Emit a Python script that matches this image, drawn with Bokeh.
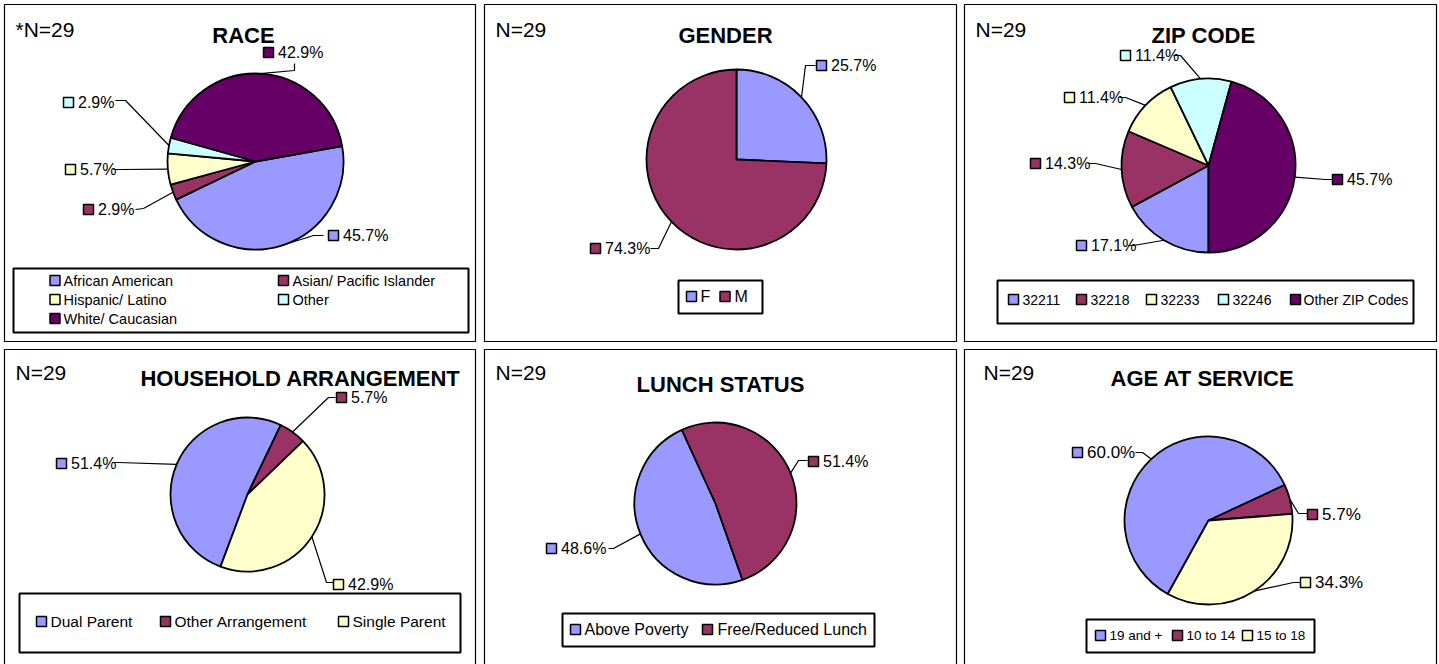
import math
from bokeh.plotting import figure
from bokeh.models import Range1d
from bokeh.embed import file_html
from bokeh.resources import INLINE
from bokeh.core.properties import value

# ---------------- data ----------------
N_LABELS = ["*N=29", "N=29", "N=29", "N=29", "N=29", "N=29"]
TITLES = ["RACE", "GENDER", "ZIP CODE", "HOUSEHOLD ARRANGEMENT", "LUNCH STATUS", "AGE AT SERVICE"]

race_cats = ["African American", "Asian/ Pacific Islander", "Hispanic/ Latino", "Other", "White/ Caucasian"]
race_vals = [45.7, 2.9, 5.7, 2.9, 42.9]

gender_cats = ["F", "M"]
gender_vals = [25.7, 74.3]

zip_cats = ["32211", "32218", "32233", "32246", "Other ZIP Codes"]
zip_vals = [17.1, 14.3, 11.4, 11.4, 45.7]

house_cats = ["Dual Parent", "Other Arrangement", "Single Parent"]
house_vals = [51.4, 5.7, 42.9]

lunch_cats = ["Above Poverty", "Free/Reduced Lunch"]
lunch_vals = [48.6, 51.4]

age_cats = ["19 and +", "10 to 14", "15 to 18"]
age_vals = [60.0, 5.7, 34.3]

# ---------------- styles ----------------
BLUE, MAROON, YELLOW, CYAN, PURPLE = "#9999FF", "#993366", "#FFFFCC", "#CCFFFF", "#660066"
FONT = "Liberation Sans"

# ---------------- layout (reference pixel space) ----------------
XR = (0.0, 1439.0)
YR = (0.0, 664.0)
W, H = 1439, 664
SX = W / (XR[1] - XR[0])
SY = H / (YR[1] - YR[0])


def Y(v):
    return -v


panels = [
    dict(cats=race_cats, vals=race_vals, colors=[BLUE, MAROON, YELLOW, CYAN, PURPLE],
         box=(4, 4, 475, 341), n=(15, 29), title=(243, 35), center=(255, 161), r=88, start=80,
         lab_fs=16, markers=[(333, 235), (88, 209), (70, 169), (68, 102), (268, 52)],
         leads=[[(323, 235), (313, 235)], [(135, 209), (143, 208)], [(113, 169), (120, 169)],
                [(115, 100), (125, 100)], [(294, 63), (294, 70)]],
         leg_box=(13, 268, 468, 332), leg_fs=14.5,
         leg_items=[(54.5, 63, 280), (283, 292, 280), (54.5, 63, 299), (283, 292, 299), (54.5, 63, 318)]),
    dict(cats=gender_cats, vals=gender_vals, colors=[BLUE, MAROON],
         box=(484, 4, 956, 341), n=(495, 29), title=(725, 35), center=(736, 159), r=90, start=0,
         lab_fs=16, markers=[(821, 65), (595, 248)],
         leads=[[(815, 65), (805, 65)], [(650, 248), (658, 248)]],
         leg_box=(678, 280, 762, 313), leg_fs=16,
         leg_items=[(691, 700, 296), (724.5, 734, 296)]),
    dict(cats=zip_cats, vals=zip_vals, colors=[BLUE, MAROON, YELLOW, CYAN, PURPLE],
         box=(964, 4, 1436, 341), n=(975, 29), title=(1203, 35), center=(1208, 165), r=87, start=180,
         lab_fs=16, markers=[(1081, 245), (1035, 163), (1069, 97), (1125, 55), (1337, 179)],
         leads=[[(1128, 245), (1133, 245)], [(1088, 163), (1095, 163)], [(1119, 97), (1125, 97)],
                [(1173, 55), (1180, 55)], [(1332, 179), (1325, 179)]],
         leg_box=(997, 280, 1413, 323), leg_fs=14,
         leg_items=[(1013, 1022, 299), (1081, 1090, 299), (1151, 1160, 299), (1223, 1232, 299), (1295, 1303, 299)]),
    dict(cats=house_cats, vals=house_vals, colors=[BLUE, MAROON, YELLOW],
         box=(4, 349, 475, 680), n=(15, 372), title=(300, 378), center=(247, 494), r=77, start=200.5,
         lab_fs=16, markers=[(61, 463), (341, 397), (338, 584)],
         leads=[[(112, 462), (118, 462)], [(335, 397), (328, 397)], [(333, 582), (326, 582)]],
         leg_box=(19, 593, 460, 652), leg_fs=15.5,
         leg_items=[(41, 50, 621), (165, 174, 621), (343, 352, 621)]),
    dict(cats=lunch_cats, vals=lunch_vals, colors=[BLUE, MAROON],
         box=(484, 349, 956, 680), n=(495, 372), title=(720, 384), center=(715, 503), r=81, start=160.5,
         lab_fs=16, markers=[(551, 548), (813, 461)],
         leads=[[(608, 548), (613, 548)], [(807, 460), (798, 460)]],
         leg_box=(562, 613, 874, 646), leg_fs=16,
         leg_items=[(575, 584, 629), (707, 717, 629)]),
    dict(cats=age_cats, vals=age_vals, colors=[BLUE, MAROON, YELLOW],
         box=(964, 349, 1436, 680), n=(983, 372), title=(1202, 378), center=(1208, 520), r=84, start=209,
         lab_fs=17, markers=[(1077, 452), (1312, 514), (1305, 582)],
         leads=[[(1135, 452), (1142, 452)], [(1307, 513), (1298, 513)], [(1300, 582), (1293, 582)]],
         leg_box=(1086, 619, 1314, 652), leg_fs=13.5,
         leg_items=[(1100, 1109, 635), (1177, 1186, 635), (1247, 1256, 635)]),
]

p = figure(width=W, height=H, output_backend="svg", toolbar_location=None,
           x_range=Range1d(*XR), y_range=Range1d(-YR[1], -YR[0]),
           x_axis_type=None, y_axis_type=None, min_border=0)
p.grid.visible = False
p.outline_line_color = None
p.background_fill_color = "white"
p.border_fill_color = "white"

for i, pn in enumerate(panels):
    # panel frame
    l, t, r_, b = pn["box"]
    p.quad(left=[l], right=[r_], top=[Y(t)], bottom=[Y(b)], fill_color=None,
           line_color="black", line_width=1.2)
    # N label and title
    p.text(x=[pn["n"][0]], y=[Y(pn["n"][1])], text=[N_LABELS[i]], text_font=value(FONT),
           text_font_size="21px", text_baseline="middle", text_align="left", text_color="black")
    p.text(x=[pn["title"][0]], y=[Y(pn["title"][1])], text=[TITLES[i]], text_font=value(FONT),
           text_font_size="22px", text_font_style="bold", text_baseline="middle",
           text_align="center", text_color="black")

    vals = pn["vals"]
    tot = sum(vals)
    cx, cy = pn["center"]
    rad = pn["r"]
    th = pn["start"]
    starts, ends, mids = [], [], []
    for v in vals:
        span = 360.0 * v / tot
        t1, t2 = th, th + span
        starts.append(math.radians(90 - t2))
        ends.append(math.radians(90 - t1))
        mids.append((t1 + t2) / 2)
        th = t2
    p.wedge(x=[cx] * len(vals), y=[Y(cy)] * len(vals), radius=rad, radius_units="screen",
            start_angle=starts, end_angle=ends,
            fill_color=pn["colors"], line_color="black", line_width=1.8)

    # leader lines
    xs, ys = [], []
    for k, m in enumerate(mids):
        a = math.radians(m)
        ax = cx + rad * math.sin(a) / SX
        ay = cy - rad * math.cos(a) / SY
        pts = pn["leads"][k] + [(ax, ay)]
        xs.append([q[0] for q in pts])
        ys.append([Y(q[1]) for q in pts])
    p.multi_line(xs=xs, ys=ys, line_color="black", line_width=1.2)

    # data labels
    mx = [q[0] for q in pn["markers"]]
    my = [Y(q[1]) for q in pn["markers"]]
    p.scatter(x=mx, y=my, marker="square", size=10, fill_color=pn["colors"],
              line_color="black", line_width=1.5)
    p.text(x=[q + 9.5 for q in mx], y=my, text=[f"{v:.1f}%" for v in vals],
           text_font=value(FONT), text_font_size=f"{pn['lab_fs']}px",
           text_baseline="middle", text_align="left", text_color="black")

    # legend
    l, t, r_, b = pn["leg_box"]
    p.quad(left=[l], right=[r_], top=[Y(t)], bottom=[Y(b)], fill_color="white",
           line_color="black", line_width=2)
    lx = [q[0] for q in pn["leg_items"]]
    tx = [q[1] for q in pn["leg_items"]]
    ly = [Y(q[2]) for q in pn["leg_items"]]
    p.scatter(x=lx, y=ly, marker="square", size=10, fill_color=pn["colors"],
              line_color="black", line_width=1.5)
    p.text(x=tx, y=ly, text=pn["cats"], text_font=value(FONT),
           text_font_size=f"{pn['leg_fs']}px", text_baseline="middle",
           text_align="left", text_color="black")

open("out.html", "w").write(file_html(p, INLINE))
